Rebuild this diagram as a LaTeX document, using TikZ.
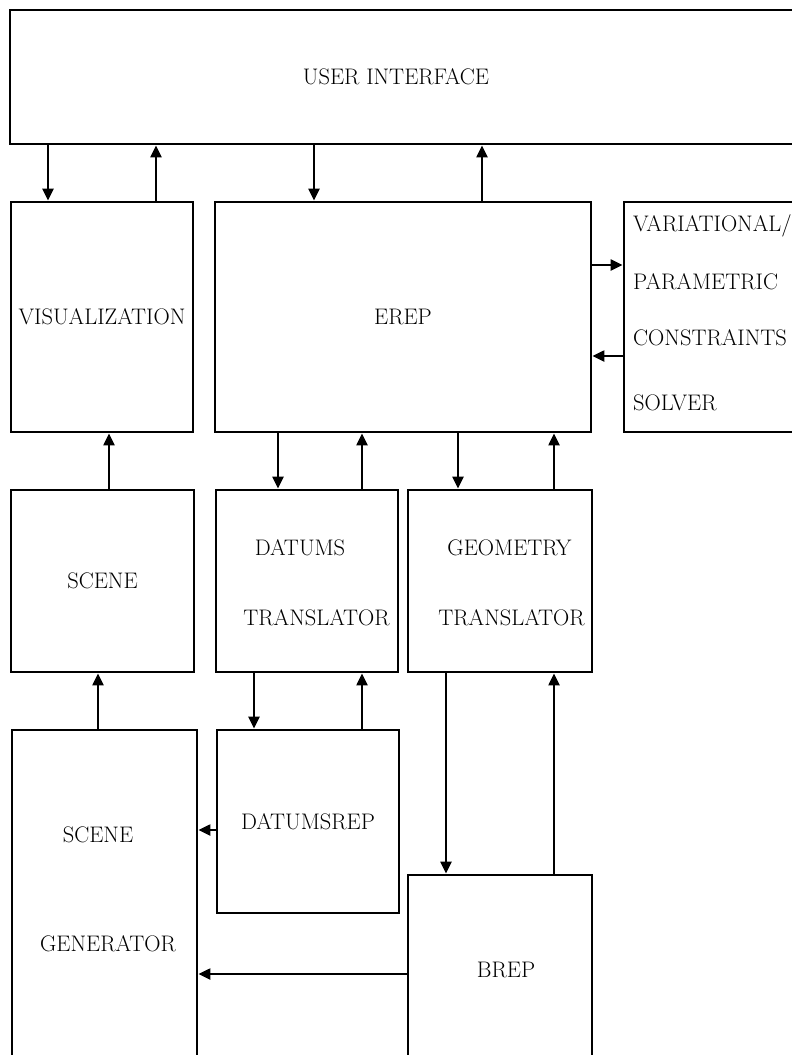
\documentclass[tikz,border=0pt]{standalone}
\usetikzlibrary{arrows.meta}
\begin{document}
\begin{tikzpicture}[x=1pt,y=-1pt,
  every node/.style={font=\fontsize{22.5}{27}\selectfont},
  box/.style={draw, line width=2.8pt, rectangle, inner sep=2pt},
  txt/.style={inner sep=0pt, anchor=base},
  arr/.style={line width=2.2pt, -{Triangle[length=12pt,width=11pt]}}]
\useasboundingbox (0,0) rectangle (792,1055);
\clip (0,0) rectangle (792,1055);
% boxes
\node[box, minimum width=800pt, minimum height=134pt] (ui) at (410,77) {USER INTERFACE\hspace*{28pt}};
\node[box, minimum width=182pt, minimum height=230pt] (vis) at (102,317) {VISUALIZATION};
\node[box, minimum width=376pt, minimum height=230pt] (erep) at (403,317) {EREP};
\node[box, minimum width=206pt, minimum height=230pt] (vpcs) at (727,317) {};
\node[box, minimum width=183pt, minimum height=182pt] (scene) at (102.5,581) {SCENE};
\node[box, minimum width=182pt, minimum height=182pt] (dt) at (307,581) {};
\node[box, minimum width=184pt, minimum height=182pt] (gt) at (500,581) {};
\node[box, minimum width=185pt, minimum height=370pt] (sg) at (104.5,915) {};
\node[box, minimum width=182pt, minimum height=183pt] (dr) at (308,821.5) {DATUMSREP};
\node[box, minimum width=184pt, minimum height=225pt] (brep) at (500,987.5) {};
% texts
\node[txt] (vt1) at (633,231.7) [anchor=base west] {VARIATIONAL/};
\node[txt] (vt2) at (633,289.7) [anchor=base west] {PARAMETRIC};
\node[txt] (vt3) at (633,345.7) [anchor=base west] {CONSTRAINTS};
\node[txt] (vt4) at (633,410.7) [anchor=base west] {SOLVER};
\node[txt] (dt1) at (300,555.2) {DATUMS};
\node[txt] (dt2) at (316.5,625.7) {TRANSLATOR};
\node[txt] (gt1) at (509.5,555.2) {GEOMETRY};
\node[txt] (gt2) at (511.5,625.7) {TRANSLATOR};
\node[txt] (sg1) at (98,842.7) {SCENE};
\node[txt] (sg2) at (108,951.7) {GENERATOR};
\node[txt] (br1) at (506,977.7) {BREP};
% connectors
\draw[arr] (48,0 |- ui.south) -- (48,0 |- vis.north);
\draw[arr] (156,0 |- vis.north) -- (156,0 |- ui.south);
\draw[arr] (314,0 |- ui.south) -- (314,0 |- erep.north);
\draw[arr] (482,0 |- erep.north) -- (482,0 |- ui.south);
\draw[arr] (0,265 -| erep.east) -- (0,265 -| vpcs.west);
\draw[arr] (0,356 -| vpcs.west) -- (0,356 -| erep.east);
\draw[arr] (109,0 |- scene.north) -- (109,0 |- vis.south);
\draw[arr] (278,0 |- erep.south) -- (278,0 |- dt.north);
\draw[arr] (362,0 |- dt.north) -- (362,0 |- erep.south);
\draw[arr] (458,0 |- erep.south) -- (458,0 |- gt.north);
\draw[arr] (554,0 |- gt.north) -- (554,0 |- erep.south);
\draw[arr] (98,0 |- sg.north) -- (98,0 |- scene.south);
\draw[arr] (254,0 |- dt.south) -- (254,0 |- dr.north);
\draw[arr] (362,0 |- dr.north) -- (362,0 |- dt.south);
\draw[arr] (446,0 |- gt.south) -- (446,0 |- brep.north);
\draw[arr] (554,0 |- brep.north) -- (554,0 |- gt.south);
\draw[arr] (0,830 -| dr.west) -- (0,830 -| sg.east);
\draw[arr] (0,974 -| brep.west) -- (0,974 -| sg.east);
\end{tikzpicture}
\end{document}
